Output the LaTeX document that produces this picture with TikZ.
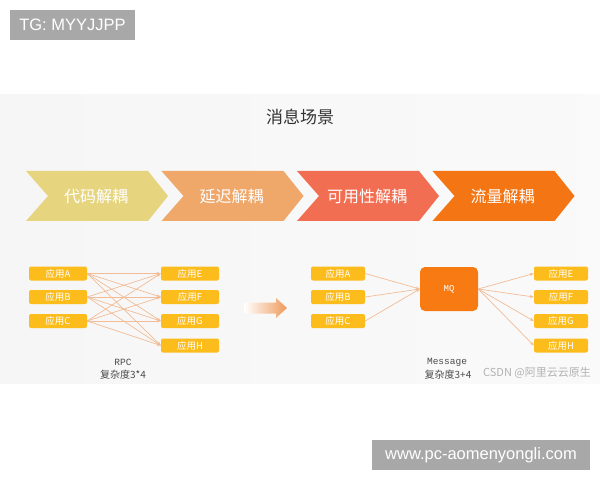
\documentclass[tikz,border=0pt]{standalone}
\usepackage{fontspec}
\setmainfont{Liberation Sans}
\newfontfamily\cjk{Noto Sans CJK SC}
\newfontfamily\monofnt{Liberation Mono}
\usetikzlibrary{arrows.meta}
\definecolor{chevA}{HTML}{E6D57E}
\definecolor{chevB}{HTML}{EFA76A}
\definecolor{chevC}{HTML}{F26E52}
\definecolor{chevD}{HTML}{F47514}
\definecolor{appyellow}{HTML}{FCBC1C}
\definecolor{mqorange}{HTML}{F77A12}
\definecolor{linecol}{HTML}{F2BC96}
\definecolor{slidebg}{HTML}{F6F6F6}
\definecolor{wmgray}{HTML}{A8A8A8}
\definecolor{arrowor}{HTML}{EE9A5A}
\begin{document}
\begin{tikzpicture}[x=1bp,y=-1bp,
  chevtext/.style={text=white,font=\cjk\fontsize{16bp}{18bp}\selectfont,inner sep=0},
  appbox/.style={fill=appyellow,rounded corners=2bp,minimum width=#1,minimum height=14bp,inner sep=0,text=white,font=\cjk\fontsize{9.5bp}{10bp}\selectfont},
  appbox/.default=58bp,
  conn/.style={draw=linecol,line width=0.7bp,-{Stealth[length=4bp,width=3bp]}},
  lbl/.style={text=black!70,inner sep=0,font=\cjk\fontsize{10bp}{12bp}\selectfont},
  wm/.style={fill=wmgray,text=white,inner sep=0,font=\fontsize{16.5bp}{18bp}\selectfont}
]
\useasboundingbox (0,0) rectangle (600,480);
\fill[white] (0,0) rectangle (600,480);
\shade[left color=slidebg, right color=white!40!slidebg] (0,95) rectangle (600,383);

% watermarks
\node[wm,minimum width=125bp,minimum height=30bp] (tg) at (72.5,25) {TG: MYYJJPP};
\node[wm,minimum width=218bp,minimum height=30bp] (www) at (481,455) {www.pc-aomenyongli.com};

% title
\node[text=black!80,inner sep=0,font=\cjk\fontsize{17bp}{19bp}\selectfont] (title) at (300,117) {消息场景};

% chevrons
\foreach \L/\c/\t/\n in {26/chevA/代码解耦/c1, 161.5/chevB/延迟解耦/c2, 297/chevC/可用性解耦/c3, 432.5/chevD/流量解耦/c4} {
  \fill[\c] (\L,171) -- ++(122,0) -- ++(20,25) -- ++(-20,25) -- ++(-122,0) -- ++(22,-25) -- cycle;
  \node[chevtext] (\n) at (\L+70,196) {\t};
}

% RPC diagram
\node[appbox] (la) at (58,273.5) {应用A};
\node[appbox] (lb) at (58,297) {应用B};
\node[appbox] (lc) at (58,321) {应用C};
\node[appbox] (re) at (190,273.5) {应用E};
\node[appbox] (rf) at (190,297) {应用F};
\node[appbox] (rg) at (190,321) {应用G};
\node[appbox] (rh) at (190,345.5) {应用H};
\foreach \s in {la,lb,lc} \foreach \t in {re,rf,rg,rh} \draw[conn] (\s.east) -- (\t.west);
\node[lbl,font=\monofnt\fontsize{9.5bp}{11bp}\selectfont] (rpc) at (123,362) {RPC};
\node[lbl] (rpcc) at (123,374.5) {复杂度3*4};

% middle arrow
\shade[left color=white, right color=arrowor] (244,302.5) -- (276,302.5) -- (276,298) -- (287,308) -- (276,318) -- (276,313.5) -- (244,313.5) -- cycle;

% MQ diagram
\node[appbox=54bp] (ma) at (338,273.5) {应用A};
\node[appbox=54bp] (mb) at (338,297) {应用B};
\node[appbox=54bp] (mc) at (338,321) {应用C};
\node[fill=mqorange,rounded corners=5bp,minimum width=58bp,minimum height=44bp,inner sep=0,text=white,font=\monofnt\fontsize{9bp}{10bp}\selectfont] (mq) at (449,289) {MQ};
\node[appbox=54bp] (me) at (561,273.5) {应用E};
\node[appbox=54bp] (mf) at (561,297) {应用F};
\node[appbox=54bp] (mg) at (561,321) {应用G};
\node[appbox=54bp] (mh) at (561,345.5) {应用H};
\foreach \s in {ma,mb,mc} \draw[conn] (\s.east) -- (mq.west);
\foreach \t in {me,mf,mg,mh} \draw[conn] (mq.east) -- (\t.west);
\node[lbl,font=\monofnt\fontsize{9.5bp}{11bp}\selectfont] (msg) at (447,362) {Message};
\node[lbl] (msgc) at (448,374.5) {复杂度3+4};
\node[text=black!30,inner sep=0,font=\cjk\fontsize{11bp}{13bp}\selectfont] (csdn) at (537,373) {CSDN @阿里云云原生};
\end{tikzpicture}
\end{document}
